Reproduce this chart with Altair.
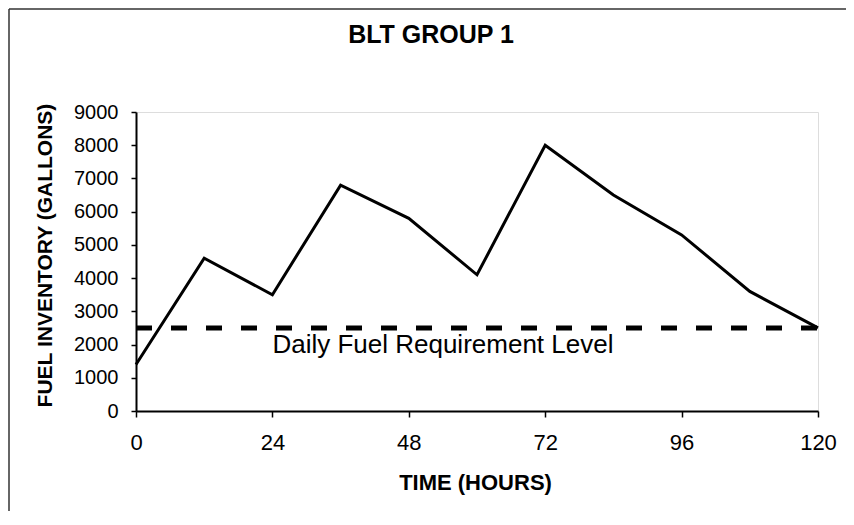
import altair as alt
import pandas as pd

# Data
hours = [0, 12, 24, 36, 48, 60, 72, 84, 96, 108, 120]
gallons = [1400, 4600, 3500, 6800, 5800, 4100, 8000, 6500, 5300, 3600, 2500]
requirement_level = 2500
requirement_label = "Daily Fuel Requirement Level"
x_ticks = [0, 24, 48, 72, 96, 120]
y_ticks = [0, 1000, 2000, 3000, 4000, 5000, 6000, 7000, 8000, 9000]

FONT = "Liberation Sans"

df = pd.DataFrame({"hours": hours, "gallons": gallons})
req_df = pd.DataFrame({"level": [requirement_level], "x0": [hours[0]], "x1": [hours[-1]],
                       "label": [requirement_label], "lx": [24]})
frame_df = pd.DataFrame({"a": [0]})

x_scale = alt.Scale(domain=[0, 120], nice=False, zero=False)
y_scale = alt.Scale(domain=[0, 9000], nice=False)

x_axis = alt.Axis(
    values=x_ticks, title="TIME (HOURS)", grid=False, format="d", labelFlush=False,
    labelFontSize=22, labelFont=FONT, labelColor="black", labelPadding=15,
    tickSize=6, tickColor="black", tickWidth=1.5,
    domainColor="black", domainWidth=2,
    titleFont=FONT, titleFontSize=22, titleFontWeight="bold", titleColor="black",
    titleX=339, titleY=78, titleBaseline="alphabetic", titleAlign="center",
)
y_axis = alt.Axis(
    values=y_ticks, title="FUEL INVENTORY  (GALLONS)", grid=False, format="d", labelFlush=False,
    labelFontSize=20, labelFont=FONT, labelColor="black", labelPadding=13,
    tickSize=5, tickColor="black", tickWidth=1.5,
    domainColor="black", domainWidth=2,
    titleFont=FONT, titleFontSize=21, titleFontWeight="bold", titleColor="black",
    titleAngle=270, titleX=-91, titleY=143, titleAlign="center", titleBaseline="middle",
)

line = alt.Chart(df).mark_line(color="black", strokeWidth=3).encode(
    x=alt.X("hours:Q", scale=x_scale, axis=x_axis),
    y=alt.Y("gallons:Q", scale=y_scale, axis=y_axis),
)

req_rule = alt.Chart(req_df).mark_rule(color="black", strokeWidth=5, strokeDash=[16, 19]).encode(
    x=alt.X("x0:Q", scale=x_scale, axis=x_axis),
    x2="x1:Q",
    y=alt.Y("level:Q", scale=y_scale, axis=y_axis),
)

req_text = alt.Chart(req_df).mark_text(
    align="left", baseline="alphabetic", dy=25, fontSize=26, font=FONT, color="black"
).encode(
    x=alt.X("lx:Q", scale=x_scale, axis=x_axis),
    y=alt.Y("level:Q", scale=y_scale, axis=y_axis),
    text="label:N",
)

# outer frame of the figure (left and top edges)
frame_left = alt.Chart(frame_df).mark_rule(color="#333333", strokeWidth=1.5).encode(
    x=alt.value(-127), y=alt.value(-103), y2=alt.value(399)
)
frame_top = alt.Chart(frame_df).mark_rule(color="#333333", strokeWidth=1.5).encode(
    x=alt.value(-127), x2=alt.value(710), y=alt.value(-103)
)

chart = alt.layer(line, req_rule, req_text, frame_left, frame_top).properties(
    width=682, height=299,
    title=alt.TitleParams("BLT GROUP 1", font=FONT, fontSize=25, fontWeight="bold",
                          color="black", anchor="middle", dx=-46, offset=0, dy=60,
                          baseline="alphabetic"),
    autosize=alt.AutoSizeParams(type="none"),
    padding={"left": 128, "top": 104, "right": 28, "bottom": 100},
).configure_view(
    fill="#f4f4f4", stroke="black", strokeWidth=2
).configure(background="white")

chart.save("out.html", embed_options={"renderer": "svg", "actions": False})
